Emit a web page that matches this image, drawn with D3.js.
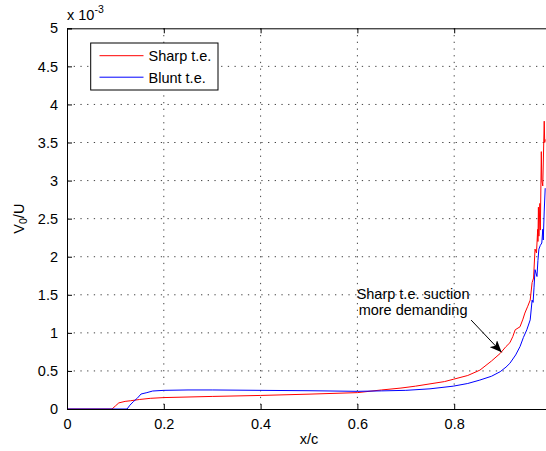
<!DOCTYPE html>
<html>
<head>
<meta charset="utf-8">
<script src="https://cdn.jsdelivr.net/npm/d3@7"></script>
<style>
  body { margin: 0; background: #fff; }
  svg { display: block; font-family: "Liberation Sans", Arial, Helvetica, sans-serif; }
</style>
</head>
<body>
<div id="chart"></div>
<script>
// Chart size
var svgWidth = 546;
var svgHeight = 451;

// Axes box (right edge runs past the window, like the original)
var margin = { top: 28.3, right: -5, bottom: 42, left: 67 };
var plotWidth = svgWidth - margin.left - margin.right;
var plotHeight = svgHeight - margin.top - margin.bottom;

// Data (V0/U in units of 1e-3)
var sharpX = [0, 0.093, 0.100, 0.107, 0.120, 0.131, 0.150, 0.172, 0.200, 0.300, 0.400, 0.500, 0.600,
  0.650, 0.690, 0.720, 0.750, 0.780, 0.798, 0.828, 0.853, 0.877, 0.895, 0.907, 0.915, 0.921, 0.926,
  0.936, 0.942, 0.946, 0.952, 0.957, 0.961, 0.964, 0.967, 0.970, 0.9725, 0.973, 0.974, 0.975, 0.977,
  0.978, 0.980, 0.981, 0.983, 0.986, 0.987, 0.988];
var sharpY = [0, 0, 0.04, 0.08, 0.10, 0.108, 0.125, 0.14, 0.15, 0.165, 0.178, 0.195, 0.215,
  0.25, 0.275, 0.30, 0.33, 0.36, 0.39, 0.44, 0.51, 0.63, 0.73, 0.82, 0.87, 0.95, 1.04,
  1.08, 1.18, 1.26, 1.35, 1.43, 1.66, 1.72, 2.10, 2.05, 2.36, 2.20, 2.65, 2.27, 2.70,
  2.35, 3.38, 3.00, 2.93, 3.78, 3.50, 3.54];

var bluntX = [0, 0.124, 0.130, 0.137, 0.145, 0.153, 0.165, 0.177, 0.200, 0.250, 0.300, 0.400, 0.500,
  0.600, 0.650, 0.700, 0.750, 0.798, 0.828, 0.853, 0.877, 0.895, 0.907, 0.915, 0.927, 0.936,
  0.943, 0.950, 0.957, 0.961, 0.963, 0.965, 0.967, 0.971, 0.973, 0.975, 0.978, 0.981, 0.983,
  0.984, 0.986, 0.988];
var bluntY = [0, 0, 0.05, 0.096, 0.14, 0.197, 0.215, 0.236, 0.245, 0.25, 0.25, 0.245, 0.24,
  0.232, 0.238, 0.245, 0.265, 0.30, 0.335, 0.38, 0.43, 0.49, 0.55, 0.60, 0.71, 0.82,
  0.94, 1.04, 1.17, 1.43, 1.40, 1.60, 1.83, 1.74, 1.95, 2.10, 2.15, 2.18, 2.36,
  2.22, 2.60, 2.90];

var xTicks = [0, 0.2, 0.4, 0.6, 0.8, 1];
var yTicks = [0, 0.5, 1, 1.5, 2, 2.5, 3, 3.5, 4, 4.5, 5];

var seriesNames = ["Sharp t.e.", "Blunt t.e."];
var seriesColors = ["#ff0000", "#0000ff"];

// Annotation: text lines and arrow (tail -> head) in data units
var noteLines = ["Sharp t.e. suction", "more demanding"];
var noteText = [0.715, 1.44];
var noteArrow = [[0.835, 1.168], [0.898, 0.744]];

var svg = d3.select("#chart")
  .append("svg")
  .attr("width", svgWidth)
  .attr("height", svgHeight);

var x = d3.scaleLinear().domain([0, 1]).range([0, 484]);
var y = d3.scaleLinear().domain([0, 5]).range([plotHeight, 0]);
var boxW = x(1);

var g = svg.append("g")
  .attr("transform", `translate(${margin.left},${margin.top})`);

// Dotted grid
g.selectAll(".vgrid")
  .data(xTicks.slice(1, -1))
  .enter().append("line")
  .attr("x1", d => x(d)).attr("x2", d => x(d))
  .attr("y1", 0).attr("y2", plotHeight)
  .attr("stroke", "#444")
  .attr("stroke-width", 1)
  .attr("stroke-dasharray", "1.3,5.4");
g.selectAll(".hgrid")
  .data(yTicks.slice(1, -1))
  .enter().append("line")
  .attr("y1", d => y(d)).attr("y2", d => y(d))
  .attr("x1", 0).attr("x2", boxW)
  .attr("stroke", "#444")
  .attr("stroke-width", 1)
  .attr("stroke-dasharray", "1.3,5.4");

// Curves
var line = d3.line().x(d => x(d[0])).y(d => y(d[1]));
var sharpData = sharpX.map((v, i) => [v, sharpY[i]]);
var bluntData = bluntX.map((v, i) => [v, bluntY[i]]);

[sharpData, bluntData].forEach((data, i) => {
  g.append("path")
    .datum(data)
    .attr("fill", "none")
    .attr("stroke", seriesColors[i])
    .attr("stroke-width", 1)
    .attr("stroke-linejoin", "round")
    .attr("d", line);
});

// Axes (ticks inside, MATLAB style); the "1" label sits past the window edge
var xAxis = d3.axisBottom(x).tickValues(xTicks).tickSize(-5).tickPadding(10)
  .tickFormat(d => d === 1 ? "" : d3.format("")(d));
var yAxis = d3.axisLeft(y).tickValues(yTicks).tickSize(-5).tickPadding(9)
  .tickFormat(d => d3.format("")(d));

g.append("g")
  .attr("transform", `translate(0,${plotHeight})`)
  .call(xAxis);
g.append("g").call(yAxis);
g.append("g").call(d3.axisTop(x).tickValues(xTicks).tickSize(-5).tickFormat(""));
g.append("g").attr("transform", `translate(${boxW},0)`)
  .call(d3.axisRight(y).tickValues(yTicks).tickSize(-5).tickFormat(""));

g.selectAll(".domain").attr("stroke", "#000").attr("stroke-width", 1);
g.selectAll(".tick line").attr("stroke", "#000");
g.selectAll(".tick text")
  .attr("fill", "#000")
  .style("font-size", "14.5px")
  .style("font-family", "'Liberation Sans', Arial, sans-serif");

// Axis labels
svg.append("text")
  .attr("x", margin.left + boxW / 2)
  .attr("y", 444)
  .attr("text-anchor", "middle")
  .style("font-size", "14.5px")
  .text("x/c");

var yLabel = svg.append("text")
  .attr("transform", `translate(24,${margin.top + plotHeight / 2}) rotate(-90)`)
  .attr("text-anchor", "middle")
  .style("font-size", "14.5px");
yLabel.append("tspan").text("V");
yLabel.append("tspan").attr("dy", 3).style("font-size", "10.5px").text("0");
yLabel.append("tspan").attr("dy", -3).text("/U");

// Exponent label
var expLabel = svg.append("text")
  .attr("x", 67)
  .attr("y", 20)
  .style("font-size", "14.5px");
expLabel.append("tspan").text("x 10");
expLabel.append("tspan").attr("dy", -7).style("font-size", "10.5px").text("-3");

// Legend
var legend = svg.append("g");
legend.append("rect")
  .attr("x", 90.7).attr("y", 43)
  .attr("width", 127.3).attr("height", 47)
  .attr("fill", "#fff")
  .attr("stroke", "#000")
  .attr("stroke-width", 1);
seriesNames.forEach((name, i) => {
  var ly = 55.7 + i * 21.5;
  legend.append("line")
    .attr("x1", 99.5).attr("x2", 143.5)
    .attr("y1", ly).attr("y2", ly)
    .attr("stroke", seriesColors[i])
    .attr("stroke-width", 1);
  legend.append("text")
    .attr("x", 148.5).attr("y", ly + 5.5)
    .style("font-size", "14.5px")
    .text(name);
});

// Annotation
svg.append("defs").append("marker")
  .attr("id", "head")
  .attr("viewBox", "0 0 12 10")
  .attr("refX", 12).attr("refY", 5)
  .attr("markerWidth", 12).attr("markerHeight", 10)
  .attr("markerUnits", "userSpaceOnUse")
  .attr("orient", "auto")
  .append("path")
  .attr("d", "M0,0 L12,5 L0,10 L3,5 Z")
  .attr("fill", "#000");

g.append("line")
  .attr("x1", x(noteArrow[0][0])).attr("y1", y(noteArrow[0][1]))
  .attr("x2", x(noteArrow[1][0])).attr("y2", y(noteArrow[1][1]))
  .attr("stroke", "#000")
  .attr("stroke-width", 1)
  .attr("marker-end", "url(#head)");

g.selectAll(".note")
  .data(noteLines)
  .enter().append("text")
  .attr("x", x(noteText[0]))
  .attr("y", (d, i) => y(noteText[1]) + i * 15.7)
  .attr("text-anchor", "middle")
  .style("font-size", "14.5px")
  .text(d => d);
</script>
</body>
</html>
